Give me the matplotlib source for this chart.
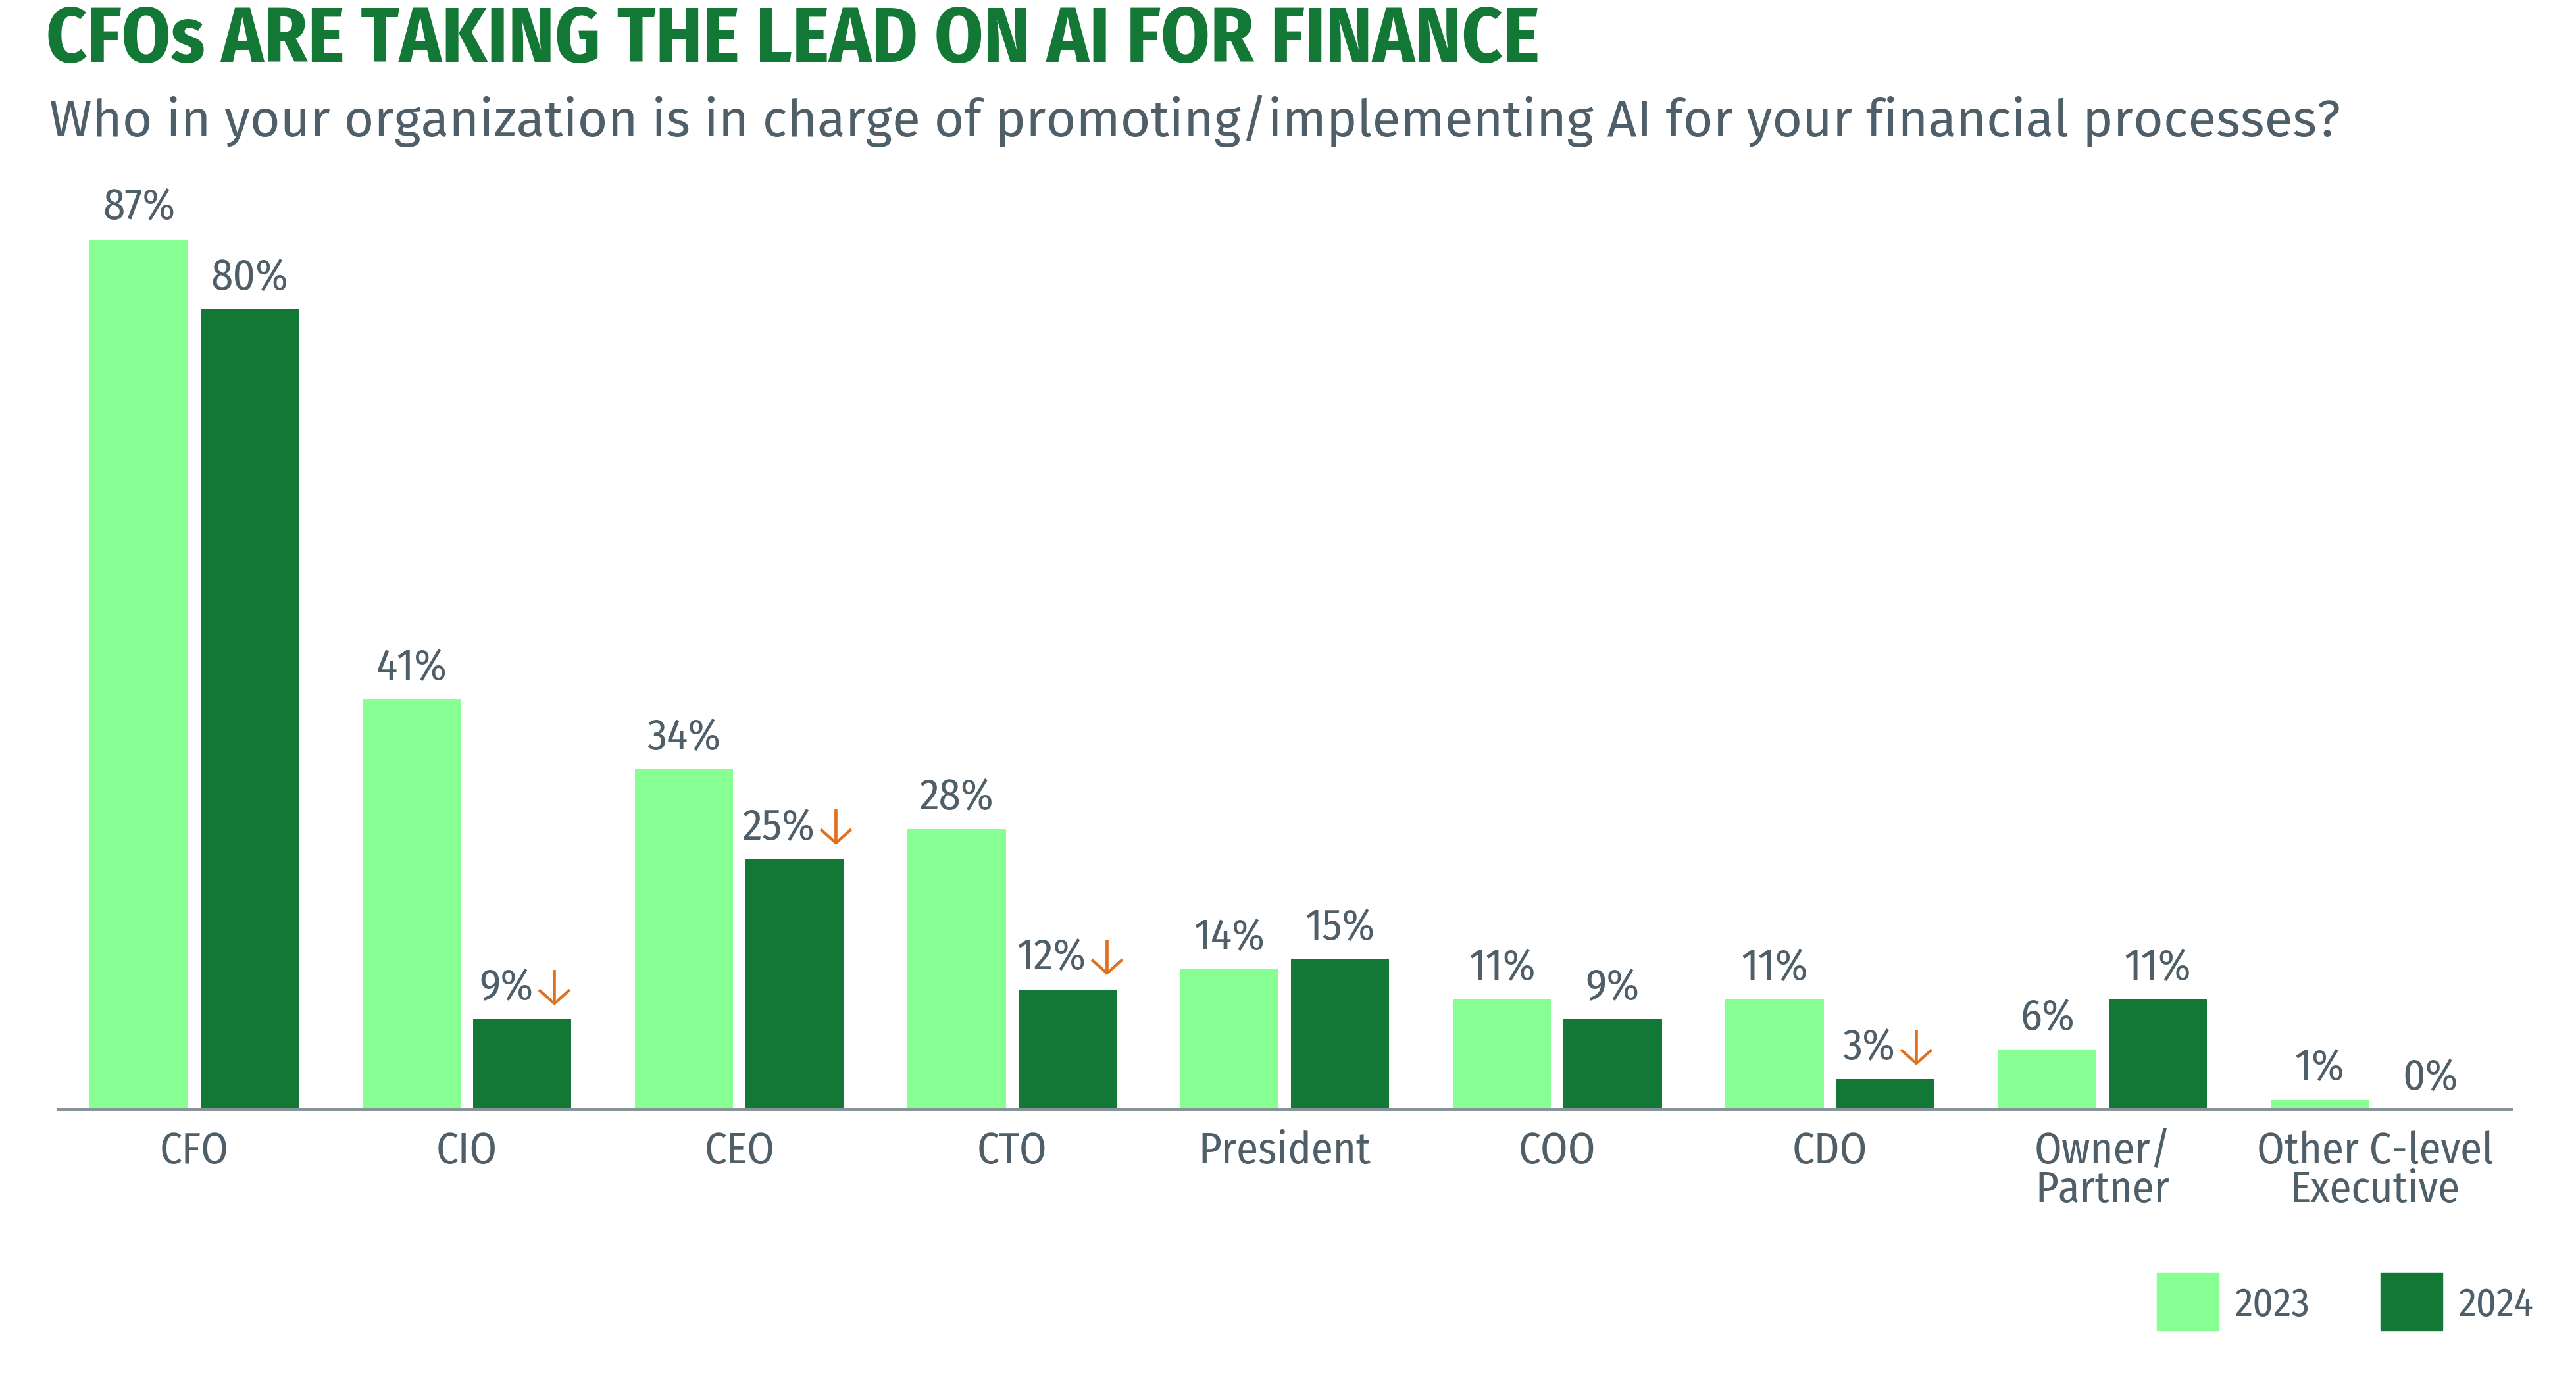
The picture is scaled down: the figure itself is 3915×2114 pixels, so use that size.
import matplotlib
matplotlib.use("Agg")
import matplotlib.pyplot as plt
import numpy as np
from matplotlib.patches import Rectangle
from matplotlib import font_manager as fm

categories = ["CFO", "CIO", "CEO", "CTO", "President", "COO", "CDO", "Owner/\nPartner", "Other C-level\nExecutive"]
values_2023 = [87, 41, 34, 28, 14, 11, 11, 6, 1]
values_2024 = [80, 9, 25, 12, 15, 9, 3, 11, 0]
down_arrow = [False, True, True, True, False, False, True, False, False]
series_names = ["2023", "2024"]

LIGHT = "#88FF92"
DARK = "#137735"
TEXT = "#4F5F6A"
AXIS = "#86949A"
ORANGE = "#E0701E"

names = {f.name for f in fm.fontManager.ttflist}
NARROW = [f for f in ["Fira Sans Condensed", "Liberation Sans Narrow",
                      "Roboto Condensed", "Roboto", "DejaVu Sans"] if f in names] + ["DejaVu Sans"]
REG = [f for f in ["Fira Sans", "Open Sans", "Noto Sans", "DejaVu Sans"] if f in names] + ["DejaVu Sans"]

W, H = 3915, 2114
fig = plt.figure(figsize=(W / 100, H / 100), dpi=100)
fig.patch.set_facecolor("white")

axis_y = 1686
ppu = 15.2
top_px = 300
left_px, right_px = 88, 3817
ax = fig.add_axes([left_px / W, 1 - axis_y / H, (right_px - left_px) / W, (axis_y - top_px) / H])
ax.set_xlim(-0.5, 8.5)
ax.set_ylim(0, (axis_y - top_px) / ppu)

x = np.arange(len(categories))
bw = 0.36
off = 0.203
ax.bar(x - off, values_2023, bw, color=LIGHT, zorder=2)
ax.bar(x + off, values_2024, bw, color=DARK, zorder=2)

for s in ["top", "right", "left"]:
    ax.spines[s].set_visible(False)
ax.spines["bottom"].set_color(AXIS)
ax.spines["bottom"].set_linewidth(3.6)
ax.spines["bottom"].set_zorder(3)
ax.set_yticks([])
ax.set_xticks(x)
ax.set_xticklabels(categories, fontsize=48, color=TEXT, family=NARROW, linespacing=0.9)
ax.tick_params(axis="x", length=0, pad=23)

fig.canvas.draw()
renderer = fig.canvas.get_renderer()

def width_px(t):
    return t.get_window_extent(renderer).width

LBL = 48
for xi, v in zip(x, values_2023):
    ax.annotate(f"{v}%", (xi - off, v), xytext=(0, 21), textcoords="offset points",
                ha="center", va="baseline", fontsize=LBL, color=TEXT, family=NARROW)

gap = -6    # px between number box and arrow box (arrow glyph has side bearing)
shift = 10  # px, group sits slightly right of bar centre
for xi, v, dn in zip(x, values_2024, down_arrow):
    t = ax.annotate(f"{v}%", (xi + off, v), xytext=(0, 21), textcoords="offset points",
                    ha="center", va="baseline", fontsize=LBL, color=TEXT, family=NARROW)
    if dn:
        a = ax.annotate("\u2193", (xi + off, v), xytext=(0, 17), textcoords="offset points",
                        ha="left", va="baseline", fontsize=60, color=ORANGE,
                        family=NARROW, fontweight=350)
        fig.canvas.draw()
        wn = width_px(t)
        wa = width_px(a)
        total = wn + wa + gap
        t.set_position(((wn - total) / 2 * 0.72 + shift * 0.72, 21))
        a.set_position(((-total / 2 + wn + gap) * 0.72 + shift * 0.72, 17))

def fit_text(xp, yp, s, target_w, size0, **kw):
    t = fig.text(xp / W, 1 - yp / H, s, fontsize=size0, va="baseline", ha="left", **kw)
    fig.canvas.draw()
    w = width_px(t)
    t.set_fontsize(size0 * target_w / w)
    return t

fit_text(70, 94, "CFOs ARE TAKING THE LEAD ON AI FOR FINANCE", 2340 - 70, 80,
         color=DARK, family=NARROW, fontweight="bold")
fit_text(75, 207, "Who in your organization is in charge of promoting/implementing AI for your financial processes?",
         3553 - 75, 54, color=TEXT, family=REG)

# legend
for (x0, x1), col, lab in [((3278, 3372), LIGHT, series_names[0]),
                           ((3618, 3712), DARK, series_names[1])]:
    fig.patches.append(Rectangle((x0 / W, 1 - 2022 / H), (x1 - x0) / W, 88 / H,
                                 transform=fig.transFigure, color=col))
    fit_text(x1 + 24, 2000, lab, 114, 40, color=TEXT, family=NARROW)

fig.savefig("out.png", dpi=100, facecolor="white")
